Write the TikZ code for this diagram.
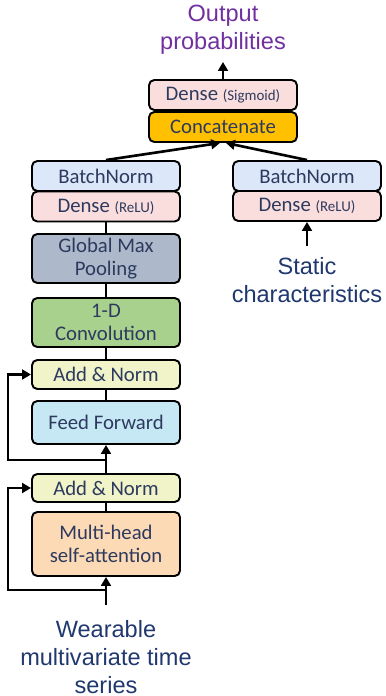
\documentclass[tikz,border=0pt]{standalone}
\usepackage{fontspec}
\setmainfont{Carlito}
\newfontfamily\labelfont{Liberation Sans}
\usepackage{tikz}
\usetikzlibrary{positioning, arrows.meta}

\begin{document}
\begin{tikzpicture}[
  block/.style={
    draw=black,
    line width=1.1pt,
    rounded corners=3pt,
    minimum width=2.96cm,
    minimum height=0.6cm,
    text=boxtext,
    font=\fontsize{11.8}{13}\selectfont,
    align=center,
    inner sep=1pt
  },
  iolabel/.style={
    text=navytext,
    font=\labelfont\fontsize{13.4}{16}\selectfont,
    align=center
  },
  link/.style={line width=1.5pt},
  flow/.style={line width=1.5pt, -{Triangle[length=5pt,width=5.5pt]}}
]

\definecolor{boxtext}{RGB}{45,58,94}
\definecolor{navytext}{RGB}{31,56,110}
\definecolor{outcol}{RGB}{112,48,160}
\definecolor{densecol}{RGB}{250,222,222}
\definecolor{concatcol}{RGB}{255,192,0}
\definecolor{bncol}{RGB}{220,232,250}
\definecolor{poolcol}{RGB}{173,185,202}
\definecolor{convcol}{RGB}{169,209,142}
\definecolor{addcol}{RGB}{240,244,200}
\definecolor{ffcol}{RGB}{198,232,245}
\definecolor{attcol}{RGB}{252,218,182}

\useasboundingbox (0,0) rectangle (7.7,-13.92);

% output head
\node[iolabel, text=outcol] (out) at (4.46,-0.60) {Output\\probabilities};
\node[block, fill=densecol] (sigm) at (4.46,-1.90)
  {Dense {\fontsize{8.5}{10}\selectfont(Sigmoid)}};
\node[block, fill=concatcol] (concat) at (4.46,-2.54) {Concatenate};

% static branch
\node[block, fill=bncol] (bnR) at (6.14,-3.52) {BatchNorm};
\node[block, fill=densecol] (denseR) at (6.14,-4.12)
  {Dense {\fontsize{8.5}{10}\selectfont(ReLU)}};
\node[iolabel] (static) at (6.14,-5.60) {Static\\characteristics};
\coordinate (staticTop) at (6.14,-4.92);

% time series branch
\node[block, fill=bncol] (bnL) at (2.12,-3.52) {BatchNorm};
\node[block, fill=densecol] (denseL) at (2.12,-4.13)
  {Dense {\fontsize{8.5}{10}\selectfont(ReLU)}};
\node[block, fill=poolcol, minimum height=0.98cm] (pool) at (2.12,-5.17)
  {Global Max\\Pooling};
\node[block, fill=convcol, minimum height=0.98cm] (conv) at (2.12,-6.45)
  {1-D\\Convolution};
\node[block, fill=addcol, minimum height=0.58cm] (addTop) at (2.12,-7.49)
  {Add \& Norm};
\node[block, fill=ffcol, minimum height=0.86cm] (ff) at (2.12,-8.45)
  {Feed Forward};
\node[block, fill=addcol, minimum height=0.56cm] (addBot) at (2.12,-9.76)
  {Add \& Norm};
\node[block, fill=attcol, minimum height=1.28cm] (mha) at (2.12,-10.88)
  {Multi-head\\self-attention};
\node[iolabel] (wear) at (2.12,-13.14)
  {Wearable\\multivariate time\\series};

\coordinate (outBot) at (4.46,-1.24);
\coordinate (inTop) at (2.12,-12.10);
\coordinate (splitTop) at (2.12,-9.20);
\coordinate (splitBot) at (2.12,-11.80);

% connectors
\draw[flow] (sigm.north) -- (outBot);
\draw[flow] (bnL.north) -- ([xshift=-0.06cm]concat.south);
\draw[flow] (bnR.north) -- ([xshift=0.06cm]concat.south);
\draw[flow] (staticTop) -- (denseR.south);
\draw[link] (denseL.south) -- (pool.north);
\draw[link] (pool.south) -- (conv.north);
\draw[link] (conv.south) -- (addTop.north);
\draw[link] (addTop.south) -- (ff.north);
\draw[flow] (addBot.north) -- (ff.south);
\draw[link] (addBot.south) -- (mha.north);
\draw[flow] (inTop) -- (mha.south);

% residual paths
\draw[flow] (splitTop) -- (0.16,-9.20) |- (addTop.west);
\draw[flow] (splitBot) -- (0.16,-11.80) |- (addBot.west);

\end{tikzpicture}
\end{document}
